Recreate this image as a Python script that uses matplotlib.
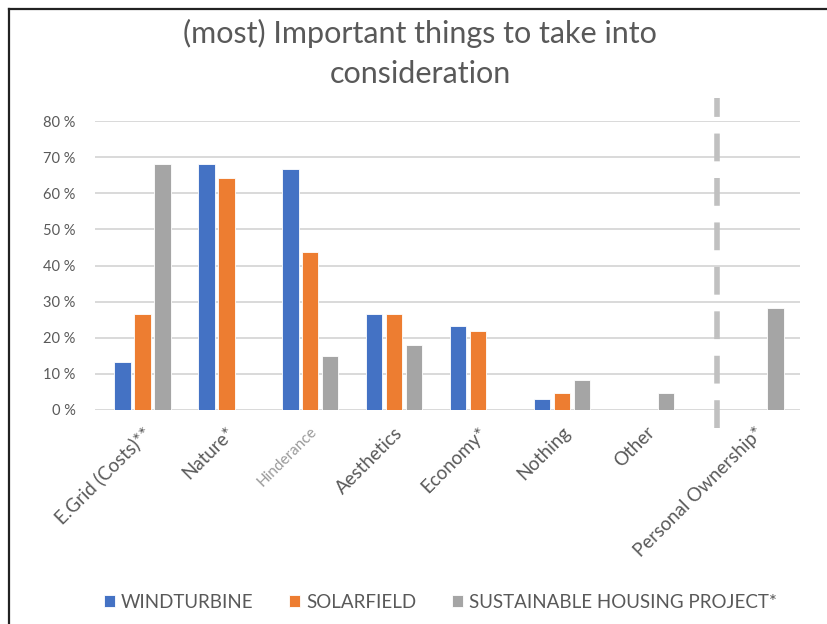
import numpy as np
import matplotlib
matplotlib.use("Agg")
import matplotlib.pyplot as plt
from matplotlib.lines import Line2D

plt.rcParams['font.family'] = ['Lato', 'DejaVu Sans']

categories = ["E.Grid (Costs)**", "Nature*", "Hinderance", "Aesthetics",
              "Economy*", "Nothing", "Other", "Personal Ownership*"]
windturbine = [13.3, 68.0, 66.7, 26.7, 23.3, 3.0, 0.0, 0.0]
solarfield = [26.7, 64.2, 43.8, 26.7, 22.0, 4.8, 0.0, 0.0]
housing = [68.0, 0.0, 15.0, 18.0, 0.0, 8.2, 4.8, 28.1]
series_names = ["WINDTURBINE", "SOLARFIELD", "SUSTAINABLE HOUSING PROJECT*"]
colors = ["#4472C4", "#ED7D31", "#A5A5A5"]
text_grey = "#595959"

# last category sits a little apart, behind the separator
x = np.arange(len(categories), dtype=float)
x[-1] += 0.3
sep_x = 6.85
width = 0.2
step = 0.238

fig = plt.figure(figsize=(8.27, 6.24), dpi=100)
ax = fig.add_axes([0.115, 0.343, 0.852, 0.463])

for i, (vals, name, col) in enumerate(zip([windturbine, solarfield, housing],
                                          series_names, colors)):
    ax.bar(x + (i - 1) * step, vals, width, color=col, label=name,
           edgecolor="white", linewidth=0.6, zorder=3)

ax.set_ylim(0, 80)
ax.set_xlim(-0.56, 7.83)
ax.set_yticks(np.arange(0, 81, 10))
ax.yaxis.set_major_formatter(lambda v, p: f"{v:.0f} %")
ax.grid(axis="y", color="#d9d9d9", linewidth=1.4, zorder=0)
for s in ax.spines.values():
    s.set_visible(False)
ax.tick_params(axis="both", length=0, colors=text_grey)
ax.tick_params(axis="y", pad=14, labelsize=10.5)
ax.tick_params(axis="x", pad=10, labelsize=13.5)

ax.set_xticks(x)
ax.set_xticklabels(categories, rotation=45, ha="right", rotation_mode="anchor")
for lbl in ax.get_xticklabels():
    if lbl.get_text() == "Hinderance":
        lbl.set_color("#9a9a9a")
        lbl.set_fontsize(11)

# separator between the shared questions and the housing-only one
ax.axvline(sep_x, color="white", linewidth=10, zorder=1)
ax.add_line(Line2D([sep_x, sep_x], [-5, 86.5], color="#c0c0c0", linewidth=4,
                   dashes=(5, 3), zorder=2, clip_on=False))

fig.text(0.508, 0.946, "(most) Important things to take into", ha="center",
         va="center", fontsize=22, color=text_grey)
fig.text(0.508, 0.882, "consideration", ha="center", va="center",
         fontsize=22, color=text_grey)

ax.legend(loc="center", bbox_to_anchor=(0.49, -0.665), ncol=3, frameon=False,
          fontsize=13.5, handlelength=0.6, handleheight=0.6, handletextpad=0.3,
          columnspacing=1.9, labelcolor=text_grey)

# outer frame, left and top edges only
fig.add_artist(Line2D([0.011, 0.011], [0, 0.986], color="#222222",
                      linewidth=1.6, transform=fig.transFigure))
fig.add_artist(Line2D([0.011, 1.0], [0.986, 0.986], color="#222222",
                      linewidth=1.6, transform=fig.transFigure))

fig.savefig("out.png", dpi=100)
